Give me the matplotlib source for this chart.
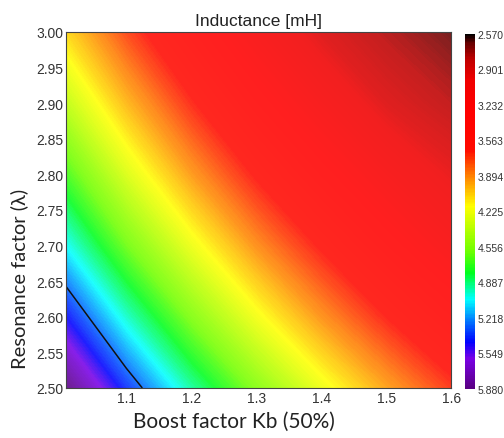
import matplotlib
matplotlib.use("Agg")
import matplotlib.pyplot as plt
import numpy as np
from matplotlib.colors import LinearSegmentedColormap, Normalize
from matplotlib.cm import ScalarMappable

# boost factor Kb (columns) and resonance factor lambda (rows)
kb = [1.007, 1.1, 1.2, 1.3, 1.4, 1.5, 1.6]
lam = [2.5, 2.6, 2.7, 2.8, 2.9, 3.0]

# inductance [mH] read on the grid above, one row per lambda
L_25 = [5.88, 5.38, 4.93, 4.55, 4.23, 3.95, 3.70]
L_26 = [5.44, 4.98, 4.56, 4.21, 3.91, 3.65, 3.42]
L_27 = [5.04, 4.61, 4.23, 3.90, 3.63, 3.38, 3.17]
L_28 = [4.69, 4.29, 3.93, 3.63, 3.37, 3.15, 2.97]
L_29 = [4.37, 4.00, 3.67, 3.38, 3.14, 2.92, 2.80]
L_30 = [4.08, 3.74, 3.43, 3.16, 2.92, 2.78, 2.66]

cbar_ticks = [2.570, 2.901, 3.232, 3.563, 3.894, 4.225, 4.556, 4.887, 5.218, 5.549, 5.880]
contour_level = 5.27

vmin, vmax = 2.570, 5.880
# colour stops: (value, rgb)
stops = [(2.570, (0, 0, 0)), (2.65, (100, 0, 0)), (2.80, (190, 0, 0)),
         (3.00, (240, 0, 0)), (3.30, (255, 0, 0)), (3.65, (255, 10, 0)),
         (3.894, (255, 128, 0)), (4.18, (255, 255, 0)), (4.60, (110, 255, 0)),
         (4.80, (0, 255, 30)), (5.05, (0, 255, 255)), (5.25, (0, 120, 255)),
         (5.45, (0, 0, 255)), (5.60, (120, 0, 230)), (5.880, (90, 0, 130))]


def make_cmap(name, wash=0.0):
    # wash > 0 mixes some white into every stop (softer surface colours)
    cols = []
    for v, rgb in stops:
        c = tuple((1 - wash) * x / 255 + wash for x in rgb)
        cols.append(((v - vmin) / (vmax - vmin), c))
    return LinearSegmentedColormap.from_list(name, cols)


cmap = make_cmap("ind")
cmap_soft = make_cmap("ind_soft", 0.12)
norm = Normalize(vmin, vmax)

Z = np.array([L_25, L_26, L_27, L_28, L_29, L_30])
X, Y = np.meshgrid(kb, lam)

fig = plt.figure(figsize=(5.04, 4.39), dpi=100)
ax = fig.add_axes([0.131, 0.114, 0.764, 0.811])
ax.contourf(X, Y, Z, levels=np.linspace(2.55, 5.9, 400), cmap=cmap_soft, norm=norm,
            antialiased=False)
ax.contour(X, Y, Z, levels=[contour_level], colors="#111111", linewidths=1.1)

ax.set_xlim(1.007, 1.6)
ax.set_ylim(2.5, 3.0)
ax.set_xticks([1.1, 1.2, 1.3, 1.4, 1.5, 1.6])
ax.set_xticklabels(["1.1", "1.2", "1.3", "1.4", "1.5", "1.6"])
ax.set_yticks(np.arange(2.5, 3.001, 0.05))
ax.set_yticklabels(["%.2f" % v for v in np.arange(2.5, 3.001, 0.05)])
ax.tick_params(length=0, pad=2, labelsize=10, labelcolor="#333333")
for lab in ax.get_xticklabels() + ax.get_yticklabels():
    lab.set_family("Liberation Sans")
for s in ax.spines.values():
    s.set_color("#444444")
    s.set_linewidth(0.8)

ax.set_title("Inductance [mH]", fontsize=12.5, family="Liberation Sans", pad=5, color="#222222")
ax.set_xlabel("Boost factor Kb (50%)", fontsize=15, family="Lato", color="#222222")
ax.xaxis.set_label_coords(0.436, -0.065)
ax.set_ylabel("Resonance factor (λ)", fontsize=14.5, family="Lato", color="#222222")
ax.yaxis.set_label_coords(-0.098, 0.31)

cax = fig.add_axes([0.923, 0.112, 0.020, 0.809])
cb = fig.colorbar(ScalarMappable(norm=norm, cmap=cmap), cax=cax, ticks=cbar_ticks)
cb.ax.invert_yaxis()
cb.ax.set_yticklabels(["%.3f" % t for t in cbar_ticks])
cb.ax.tick_params(length=0, pad=1.5, labelsize=7.5, labelcolor="#333333")
for lab in cb.ax.get_yticklabels():
    lab.set_family("Liberation Sans")
cb.outline.set_visible(False)

fig.savefig("out.png", dpi=100)
